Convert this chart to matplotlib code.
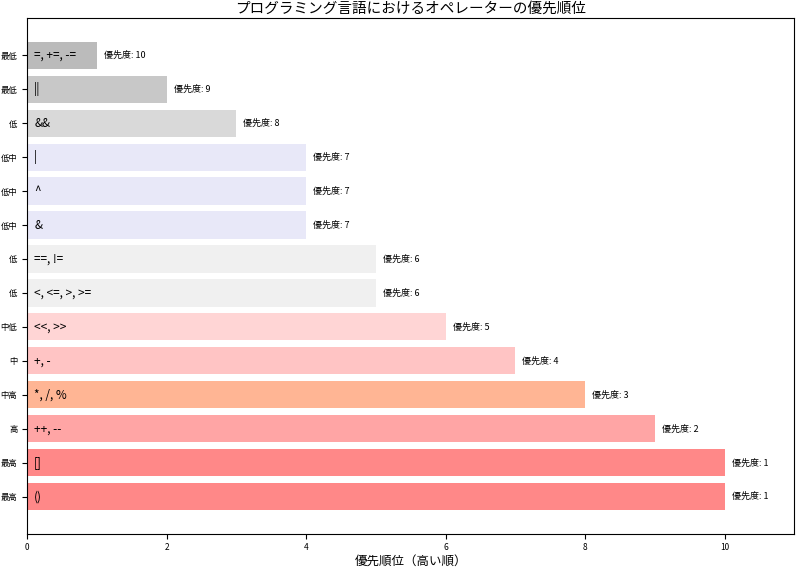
import matplotlib
matplotlib.use("Agg")
import matplotlib.pyplot as plt

plt.rcParams['font.family'] = ['Noto Sans CJK JP', 'DejaVu Sans']

operators = ["()", "[]", "++, --", "*, /, %", "+, -", "<<, >>", "<, <=, >, >=", "==, !=",
             "&", "^", "|", "&&", "||", "=, +=, -="]
priority = [1, 1, 2, 3, 4, 5, 6, 6, 7, 7, 7, 8, 9, 10]
levels = ["最高", "最高", "高", "中高", "中", "中低", "低", "低", "低中", "低中", "低中", "低", "最低", "最低"]
colors = ["#FF8888", "#FF8888", "#FFA5A5", "#FFB594", "#FFC4C4", "#FFD5D5", "#F0F0F0", "#F0F0F0",
          "#E8E8F8", "#E8E8F8", "#E8E8F8", "#D9D9D9", "#C8C8C8", "#BBBBBB"]

fig, ax = plt.subplots(figsize=(8.0, 5.69), dpi=100)
y = list(range(len(operators)))
vals = [11 - p for p in priority]
ax.barh(y, vals, color=colors, height=0.8)
for i, (v, op, p) in enumerate(zip(vals, operators, priority)):
    ax.text(0.1, i, op, va='center', ha='left', fontsize=8.5)
    ax.text(v + 0.1, i, f"優先度: {p}", va='center', ha='left', fontsize=6.5)
ax.set_yticks(y)
ax.set_yticklabels(levels, fontsize=6)
ax.set_xlim(0, 11)
ax.set_xticks([0, 2, 4, 6, 8, 10])
ax.tick_params(axis='x', labelsize=6)
ax.set_xlabel("優先順位（高い順）", fontsize=9, labelpad=2)
ax.set_title("プログラミング言語におけるオペレーターの優先順位", fontsize=10.5, pad=4)
fig.subplots_adjust(left=0.034, right=0.993, top=0.968, bottom=0.062)
fig.savefig("out.png", dpi=100)
